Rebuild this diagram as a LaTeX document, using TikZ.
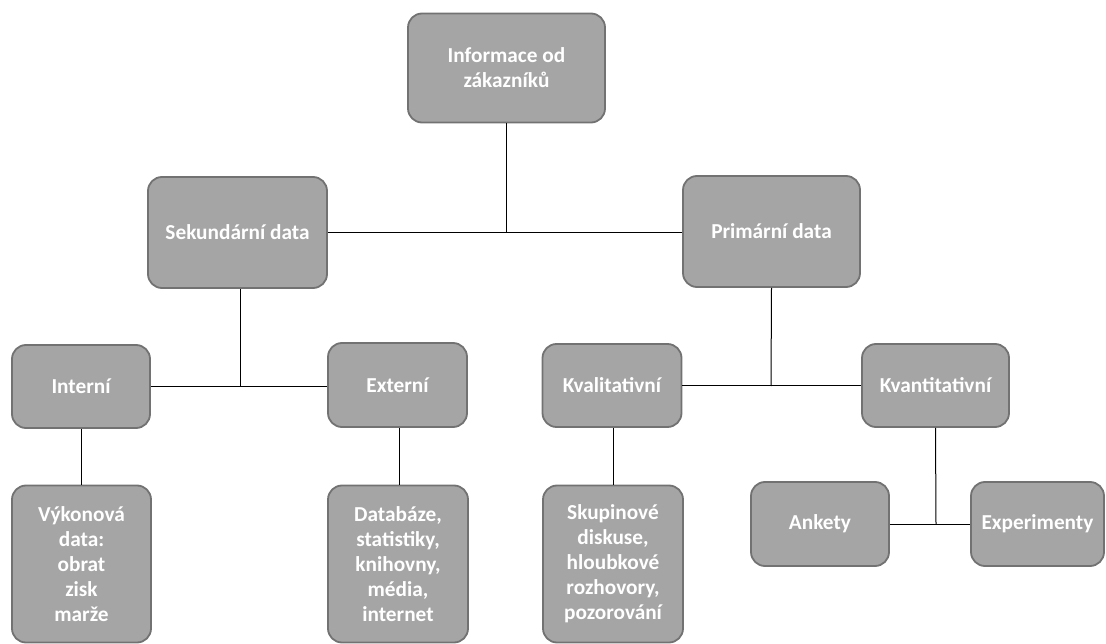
\documentclass[tikz,border=0pt]{standalone}
\usepackage{fontspec}
\setmainfont{Carlito}
\definecolor{boxfill}{HTML}{A5A5A5}
\definecolor{boxline}{HTML}{727272}
\begin{document}
\begin{tikzpicture}[x=1pt,y=-1pt,
  gbox/.style={draw=boxline, fill=boxfill, line width=1.8pt, rounded corners=14pt,
    text=white, font=\fontsize{21.3}{25}\selectfont\bfseries, align=center, inner sep=0pt},
  conn/.style={draw=black, line width=1pt}]
\useasboundingbox (0,0) rectangle (1106,644);
\node[gbox, minimum width=197pt, minimum height=109pt] (top) at (506.5,68) {Informace od\\zákazníků};
\node[gbox, minimum width=179pt, minimum height=111pt] (sek) at (237.5,232.5) {Sekundární data};
\node[gbox, minimum width=177pt, minimum height=111pt] (prim) at (771.5,231.5) {Primární data};
\node[gbox, minimum width=138pt, minimum height=83pt] (int) at (81,386.5) {Interní};
\node[gbox, minimum width=139pt, minimum height=84pt] (ext) at (397.5,385) {Externí};
\node[gbox, minimum width=139pt, minimum height=83pt] (kval) at (612,385.5) {Kvalitativní};
\node[gbox, minimum width=147pt, minimum height=83pt] (kvan) at (935.5,385.5) {Kvantitativní};
\node[gbox, minimum width=139pt, minimum height=157pt] (vyk) at (81.5,564) {Výkonová\\data:\\obrat\\zisk\\marže};
\node[gbox, minimum width=140pt, minimum height=157pt] (dat) at (398,564) {Databáze,\\statistiky,\\knihovny,\\média,\\internet};
\node[gbox, minimum width=140pt, minimum height=157pt] (sku) at (613,564) {Skupinové\\diskuse,\\hloubkové\\rozhovory,\\pozorování};
\node[gbox, minimum width=138pt, minimum height=84pt] (ank) at (820,524) {Ankety};
\node[gbox, minimum width=133pt, minimum height=84pt] (exp) at (1037.5,524) {Experimenty};
\coordinate (j1) at (506.5,232);
\coordinate (j2) at (240,386.5);
\coordinate (j3) at (771,386);
\coordinate (j4) at (936,524);
\draw[conn] (top.south) -- (j1);
\draw[conn] (sek.east) -- (sek.east -| prim.west);
\draw[conn] ([xshift=2.5pt]sek.south) -- (j2);
\draw[conn] (int.east) -- (int.east -| ext.west);
\draw[conn] (int.south) -- (int.south |- vyk.north);
\draw[conn] ([xshift=1.5pt]ext.south) -- ([xshift=1.5pt]ext.south |- dat.north);
\draw[conn] (prim.south) -- (j3);
\draw[conn] (kval.east) -- (kval.east -| kvan.west);
\draw[conn] ([xshift=1.5pt]kval.south) -- ([xshift=1.5pt]kval.south |- sku.north);
\draw[conn] (kvan.south) -- (j4);
\draw[conn] (ank.east) -- (exp.west);
\end{tikzpicture}
\end{document}
